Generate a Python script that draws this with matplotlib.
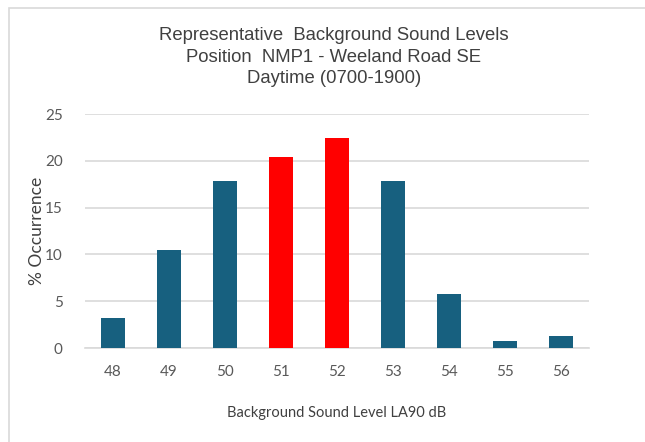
import matplotlib
matplotlib.use("Agg")
import matplotlib.pyplot as plt
from matplotlib.patches import Rectangle

categories = ["48", "49", "50", "51", "52", "53", "54", "55", "56"]
values = [3.2, 10.5, 17.8, 20.4, 22.4, 17.8, 5.8, 0.75, 1.3]
highlight = ["51", "52"]

title = "Representative  Background Sound Levels\nPosition  NMP1 - Weeland Road SE\nDaytime (0700-1900)"
xlabel = "Background Sound Level LA90 dB"
ylabel = "% Occurrence"

blue = "#17607F"
red = "#FF0000"
colors = [red if c in highlight else blue for c in categories]

fig = plt.figure(figsize=(6.45, 4.42), dpi=100)
fig.patch.set_facecolor("white")
W, H = 645, 442
ax = fig.add_axes([85 / W, 1 - 348 / H, (589 - 85) / W, (348 - 114) / H])

x = list(range(len(categories)))
ax.bar(x, values, width=0.42, color=colors, zorder=3)
ax.set_xlim(-0.5, len(categories) - 0.5)
ax.set_ylim(0, 25)
ax.set_yticks([0, 5, 10, 15, 20, 25])
ax.set_xticks(x)
ax.set_xticklabels(categories)

tick_font = "Lato"
for lab in ax.get_xticklabels() + ax.get_yticklabels():
    lab.set_fontfamily(tick_font)
    lab.set_fontsize(11)
    lab.set_color("#595959")

ax.tick_params(axis="both", length=0)
ax.tick_params(axis="y", pad=16)
ax.tick_params(axis="x", pad=12)
ax.grid(axis="y", color="#D9D9D9", linewidth=1.2, zorder=0)
for s in ["top", "right", "left"]:
    ax.spines[s].set_visible(False)
ax.spines["bottom"].set_color("#D9D9D9")
ax.spines["bottom"].set_linewidth(1.2)

ax.set_xlabel(xlabel, fontfamily=tick_font, fontsize=10.5, color="#404040", labelpad=20)
ax.set_ylabel(ylabel, fontfamily=tick_font, fontsize=12.5, color="#404040", labelpad=0)

fig.text(334 / W, 1 - 57 / H, title, ha="center", va="center",
         fontfamily="Liberation Sans", fontsize=13.3, color="#404040", linespacing=1.32)

fig.patches.append(Rectangle((9 / W, -0.1), 1.2, 1 - 8 / H + 0.1,
                             transform=fig.transFigure, fill=False,
                             edgecolor="#D9D9D9", linewidth=1.2))

fig.savefig("out.png", dpi=100)
